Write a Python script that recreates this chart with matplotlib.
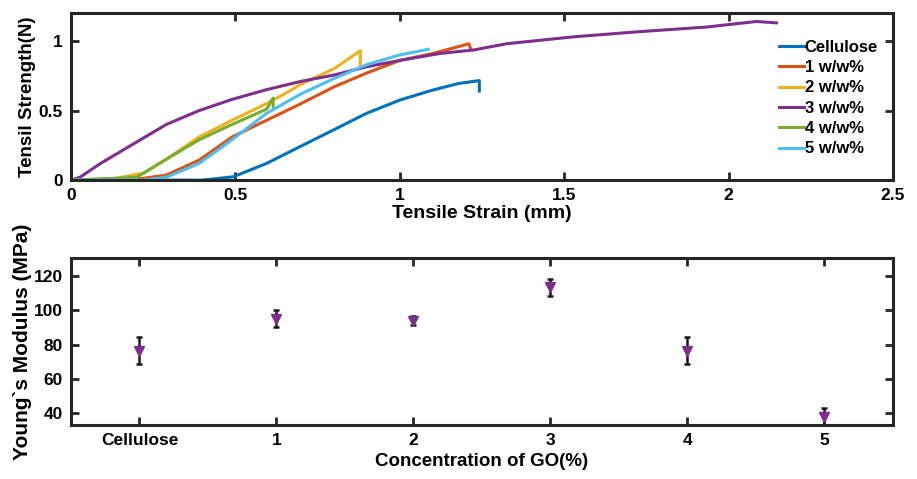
import matplotlib.pyplot as plt
import numpy as np

plt.rcParams['font.family'] = ['Liberation Sans', 'DejaVu Sans']
plt.rcParams['font.weight'] = 'bold'

# tensile curves (strain mm, force N)
cell_x = [0, 0.40, 0.494, 0.595, 0.696, 0.798, 0.899, 1.0, 1.10, 1.18, 1.242, 1.242]
cell_y = [0, 0, 0.024, 0.12, 0.24, 0.36, 0.48, 0.575, 0.647, 0.695, 0.715, 0.64]
go1_x = [0, 0.18, 0.29, 0.39, 0.49, 0.595, 0.70, 0.80, 0.90, 1.0, 1.10, 1.18, 1.21, 1.215]
go1_y = [0, 0, 0.036, 0.144, 0.31, 0.43, 0.55, 0.67, 0.77, 0.86, 0.91, 0.96, 0.98, 0.95]
go2_x = [0, 0.13, 0.22, 0.29, 0.39, 0.49, 0.595, 0.65, 0.70, 0.80, 0.88, 0.88]
go2_y = [0, 0.01, 0.05, 0.15, 0.31, 0.43, 0.55, 0.62, 0.69, 0.80, 0.93, 0.83]
go3_x = [0, 0.027, 0.09, 0.19, 0.29, 0.39, 0.49, 0.595, 0.70, 0.80, 0.90, 1.0, 1.122,
         1.224, 1.325, 1.53, 1.73, 1.933, 2.085, 2.146]
go3_y = [0, 0.02, 0.12, 0.26, 0.40, 0.50, 0.58, 0.65, 0.71, 0.755, 0.815, 0.86, 0.91,
         0.935, 0.98, 1.03, 1.067, 1.10, 1.14, 1.13]
go4_x = [0, 0.20, 0.29, 0.39, 0.49, 0.595, 0.615, 0.615]
go4_y = [0, 0.02, 0.15, 0.29, 0.40, 0.51, 0.59, 0.53]
go5_x = [0, 0.22, 0.29, 0.39, 0.49, 0.595, 0.70, 0.80, 0.90, 1.0, 1.087]
go5_y = [0, 0, 0.02, 0.12, 0.29, 0.48, 0.62, 0.73, 0.83, 0.90, 0.94]

curve_labels = ['Cellulose', '1 w/w%', '2 w/w%', '3 w/w%', '4 w/w%', '5 w/w%']
colors = ['#0072BD', '#D95319', '#EDB120', '#7E2F8E', '#77AC30', '#4DBEEE']

# Young's modulus
conc_labels = ['Cellulose', '1', '2', '3', '4', '5']
modulus = [76.5, 95, 94, 113.3, 76.4, 37.8]
mod_err = [7.9, 4.9, 2.4, 5.0, 8.0, 4.9]

fig = plt.figure(figsize=(9.17, 4.79), dpi=100)
ax1 = fig.add_axes([0.0774, 0.624, 0.8964, 0.3486])
ax2 = fig.add_axes([0.0774, 0.1127, 0.8964, 0.3486])

curves = [(cell_x, cell_y), (go1_x, go1_y), (go2_x, go2_y),
          (go3_x, go3_y), (go4_x, go4_y), (go5_x, go5_y)]
for (x, y), c, lab in zip(curves, colors, curve_labels):
    ax1.plot(x, y, color=c, lw=2.2, label=lab)

ax1.set_xlim(0, 2.5)
ax1.set_ylim(0, 1.2)
ax1.set_xticks([0, 0.5, 1, 1.5, 2, 2.5])
ax1.set_xticklabels(['0', '0.5', '1', '1.5', '2', '2.5'])
ax1.set_yticks([0, 0.5, 1])
ax1.set_yticklabels(['0', '0.5', '1'])
ax1.set_xlabel('Tensile Strain (mm)', fontsize=14, fontweight='bold', labelpad=1)
ax1.set_ylabel('Tensil Strength(N)', fontsize=13.5, fontweight='bold', labelpad=2)
leg = ax1.legend(loc='upper right', bbox_to_anchor=(0.99, 0.88), frameon=False,
                 fontsize=12, handlelength=1.5, handletextpad=0.05,
                 labelspacing=0.32, borderaxespad=0)
for t in leg.get_texts():
    t.set_fontweight('bold')

xs = np.arange(len(conc_labels))
ax2.errorbar(xs, modulus, yerr=mod_err, fmt='none', ecolor='#1a1a1a',
             elinewidth=1.8, capsize=2.5, capthick=1.8)
ax2.plot(xs, modulus, 'v', color='#7E2F8E', ms=7.5, ls='none')
ax2.set_xlim(-0.5, 5.5)
ax2.set_ylim(33, 130.5)
ax2.set_xticks(xs)
ax2.set_xticklabels(conc_labels)
ax2.set_yticks([40, 60, 80, 100, 120])
ax2.set_xlabel('Concentration of GO(%)', fontsize=13.5, fontweight='bold', labelpad=3)
ax2.set_ylabel('Young`s Modulus (MPa)', fontsize=15, fontweight='bold', labelpad=1)

for ax in (ax1, ax2):
    for s in ax.spines.values():
        s.set_linewidth(2.2)
        s.set_color('#262626')
    ax.tick_params(direction='in', length=6, width=2, top=True, right=True,
                   color='#262626', labelsize=12.5, pad=6)
    for lab in ax.get_xticklabels() + ax.get_yticklabels():
        lab.set_fontweight('bold')

fig.savefig('out.png', dpi=100)
